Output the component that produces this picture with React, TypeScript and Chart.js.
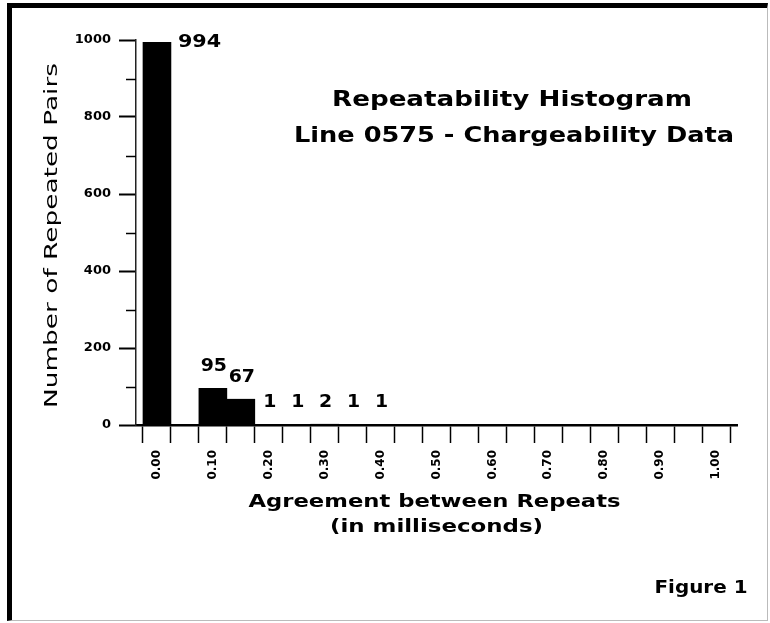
import React, { useEffect, useRef } from 'react';
import { Chart, registerables } from 'chart.js';

Chart.register(...registerables);

// ---- data ----
const BIN_CENTERS = [0.0, 0.05, 0.1, 0.15, 0.2, 0.25, 0.3, 0.35, 0.4, 0.45, 0.5, 0.55, 0.6, 0.65, 0.7, 0.75, 0.8, 0.85, 0.9, 0.95, 1.0];
const PAIR_COUNTS = [994, 0, 95, 67, 1, 1, 2, 1, 1, 0, 0, 0, 0, 0, 0, 0, 0, 0, 0, 0, 0];
const X_TICK_LABELS = ['0.00', '0.10', '0.20', '0.30', '0.40', '0.50', '0.60', '0.70', '0.80', '0.90', '1.00'];
const BIN_WIDTH = 0.05;
const X_MIN = -0.0375;
const X_MAX = 1.0375;
const Y_MIN = 0;
const Y_MAX = 1000;
const Y_MAJOR_STEP = 200;
const Y_MINOR_STEP = 100;
const TITLE_LINES = ['Repeatability Histogram', 'Line 0575 - Chargeability Data'];
const X_TITLE_LINES = ['Agreement between Repeats', '(in milliseconds)'];
const Y_TITLE = 'Number of Repeated Pairs';
const FIGURE_LABEL = 'Figure 1';

const FAMILY = '"DejaVu Sans", Verdana, sans-serif';

function drawText(
  ctx: CanvasRenderingContext2D,
  text: string,
  x: number,
  y: number,
  font: string,
  opts: { align?: CanvasTextAlign; width?: number; sx?: number; rotate?: number } = {}
) {
  ctx.save();
  ctx.translate(x, y);
  if (opts.rotate) ctx.rotate(opts.rotate);
  ctx.font = font;
  ctx.fillStyle = '#000';
  const w = ctx.measureText(text).width;
  const sx = opts.width ? opts.width / w : opts.sx || 1;
  ctx.scale(sx, 1);
  ctx.textAlign = opts.align || 'center';
  ctx.textBaseline = 'middle';
  ctx.fillText(text, 0, 0);
  ctx.restore();
}

const textPlugin = {
  id: 'figureTexts',
  afterDatasetsDraw(chart: any) {
    const ctx: CanvasRenderingContext2D = chart.ctx;
    const area = chart.chartArea;
    const ys = chart.scales.y;

    // minor y ticks
    ctx.save();
    ctx.strokeStyle = '#000';
    ctx.lineWidth = 1.5;
    for (let v = Y_MINOR_STEP; v < Y_MAX; v += Y_MAJOR_STEP) {
      const py = Math.round(ys.getPixelForValue(v)) + 0.5;
      ctx.beginPath();
      ctx.moveTo(area.left - 10, py);
      ctx.lineTo(area.left, py);
      ctx.stroke();
    }
    ctx.restore();

    // data labels
    const meta = chart.getDatasetMeta(0);
    meta.data.forEach((bar: any, i: number) => {
      const v = PAIR_COUNTS[i];
      if (!v) return;
      const p = bar.getProps(['x', 'y', 'width'], true);
      const font = `bold 18px ${FAMILY}`;
      if (ys.getPixelForValue(v) - 25 < area.top) {
        drawText(ctx, String(v), p.x + p.width / 2 + 7, p.y, font, { align: 'left', sx: 1.15 });
      } else {
        drawText(ctx, String(v), p.x + 1, p.y - 22, font, { align: 'center', sx: 1.05 });
      }
    });

    // chart title (inside plot)
    drawText(ctx, TITLE_LINES[0], 512, 101, `bold 21px ${FAMILY}`, { width: 360 });
    drawText(ctx, TITLE_LINES[1], 514, 137, `bold 21px ${FAMILY}`, { width: 440 });

    // x axis title
    const cx = (area.left + area.right) / 2;
    drawText(ctx, X_TITLE_LINES[0], cx - 2, 503, `bold 17px ${FAMILY}`, { width: 372 });
    drawText(ctx, X_TITLE_LINES[1], cx, 528, `bold 17px ${FAMILY}`, { width: 213 });

    // y axis title
    drawText(ctx, Y_TITLE, 52, (area.top + area.bottom) / 2 + 3, `18px ${FAMILY}`, {
      width: 345,
      rotate: -Math.PI / 2,
    });

    // figure label
    drawText(ctx, FIGURE_LABEL, 701, 588, `bold 18px ${FAMILY}`, { width: 93 });
  },
};

export default function App() {
  const canvasRef = useRef<HTMLCanvasElement | null>(null);

  useEffect(() => {
    const canvas = canvasRef.current;
    if (!canvas) return;
    const chart = new Chart(canvas, {
      type: 'bar',
      data: {
        datasets: [
          {
            data: BIN_CENTERS.map((x, i) => ({ x, y: PAIR_COUNTS[i] })),
            backgroundColor: '#000',
            borderWidth: 0,
            barPercentage: 1,
            categoryPercentage: 1,
          },
        ],
      },
      options: {
        responsive: false,
        maintainAspectRatio: false,
        animation: false,
        devicePixelRatio: 1,
        layout: { padding: { left: 0, right: 33, top: 40, bottom: 0 } },
        plugins: {
          legend: { display: false },
          tooltip: { enabled: false },
          title: { display: false },
        },
        scales: {
          x: {
            type: 'linear',
            min: X_MIN,
            max: X_MAX,
            offset: false,
            afterFit: (s: any) => {
              s.height = 198;
            },
            grid: {
              drawOnChartArea: false,
              drawTicks: true,
              tickLength: 18,
              tickWidth: 1.5,
              tickColor: '#000',
            },
            border: { display: true, color: '#000', width: 2.5 },
            ticks: {
              stepSize: BIN_WIDTH,
              autoSkip: false,
              includeBounds: false,
              minRotation: 90,
              maxRotation: 90,
              padding: 7,
              color: '#000',
              font: { family: FAMILY, size: 12, weight: 'bold' },
              callback: (value: any) => {
                const k = Math.round(Number(value) / BIN_WIDTH);
                return k % 2 === 0 ? X_TICK_LABELS[k / 2] ?? '' : '';
              },
            },
          },
          y: {
            min: Y_MIN,
            max: Y_MAX,
            afterFit: (s: any) => {
              s.width = 136;
            },
            grid: {
              drawOnChartArea: false,
              drawTicks: true,
              tickLength: 17,
              tickWidth: 2,
              tickColor: (c: any) => (c.tick && c.tick.value % Y_MAJOR_STEP === 0 ? '#000' : 'rgba(0,0,0,0)'),
            },
            border: { display: true, color: '#222', width: 1.5 },
            ticks: {
              stepSize: Y_MINOR_STEP,
              autoSkip: false,
              padding: 8,
              color: '#000',
              font: { family: FAMILY, size: 13, weight: 'bold' },
              callback: (value: any) => (Number(value) % Y_MAJOR_STEP === 0 ? String(value) : ''),
            },
          },
        },
      } as any,
      plugins: [textPlugin],
    });
    return () => chart.destroy();
  }, []);

  return (
    <div style={{ position: 'fixed', left: 0, top: 0, width: 770, height: 623, background: '#fff' }}>
      <div
        style={{
          position: 'absolute',
          left: 7,
          top: 3,
          width: 761,
          height: 618,
          boxSizing: 'border-box',
          borderTop: '5px solid #000',
          borderLeft: '5px solid #000',
          borderRight: '1px solid #bbb',
          borderBottom: '1px solid #bbb',
        }}
      />
      <canvas
        ref={canvasRef}
        width={770}
        height={623}
        style={{ position: 'absolute', left: 0, top: 0, width: 770, height: 623 }}
      />
    </div>
  );
}
